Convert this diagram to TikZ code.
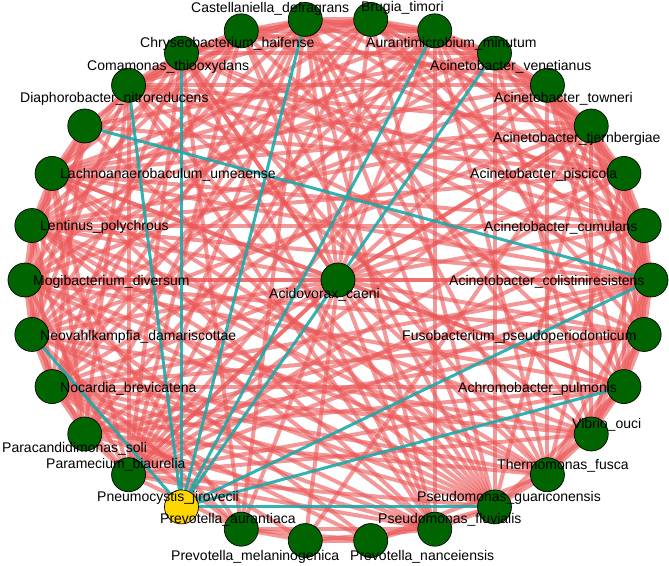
\documentclass[tikz,border=0pt]{standalone}
\usepackage{fontspec}
\setmainfont{Liberation Sans}
\definecolor{posedge}{RGB}{236,88,88}
\definecolor{negedge}{RGB}{30,168,168}
\definecolor{taxongreen}{RGB}{0,100,0}
\definecolor{pathogen}{RGB}{255,215,0}
\tikzset{
  posline/.style={draw=posedge, line width=4pt, opacity=.62},
  negline/.style={draw=negedge, line width=3pt, opacity=.9},
  taxon/.style={circle, draw=black, line width=.7pt, fill=taxongreen, minimum size=34pt, inner sep=0pt},
  lab/.style={anchor=base west, inner sep=0pt, font=\fontsize{14}{16}\selectfont}
}
\begin{document}
\begin{tikzpicture}[x=1pt,y=-1pt]
\useasboundingbox (0,0) rectangle (669,565);
% circle layout, 12 degrees apart
\foreach \k in {0,...,29}
  \coordinate (p\k) at ({338+313*cos(12*\k)},{280-262*sin(12*\k)});
\coordinate (pc) at (338,280);
% positive correlations
\foreach \a/\b in {0/1,0/2,0/3,0/4,0/5,0/7,1/2,1/3,1/4,1/6,1/8,2/3,2/4,2/5,2/7,2/9,
  3/4,3/5,3/6,3/8,4/5,4/6,4/7,4/9,5/6,5/7,5/8,5/10,6/7,6/8,6/9,7/8,7/9,7/10,7/11,
  8/9,8/10,8/11,9/10,9/11,9/13,10/11,10/12,10/13,11/13,11/14,
  12/13,12/14,13/14,13/15,13/16,14/15,14/16,14/17,15/16,15/17,16/17,16/18,17/18,
  17/19,18/19,14/18,15/19,12/16,
  24/25,25/26,25/27,26/27,26/28,27/28,27/29,28/29,28/0,29/0,29/1,26/29,25/28,27/0,
  28/1,26/0,3/29,2/28,1/27,2/29,
  21/22,22/23,21/23,22/24,23/25,21/24,19/21,23/26,22/17,22/3,23/15,
  25/17,25/16,25/14,25/13,25/11,25/9,25/7,25/5,25/3,25/12,25/19,25/10,25/8,25/15,
  26/18,26/15,26/13,26/10,26/8,26/6,26/4,26/2,26/14,26/17,
  27/17,27/14,27/11,27/8,27/5,27/3,27/19,27/16,
  28/18,28/15,28/13,28/9,28/6,28/4,28/19,28/17,
  29/17,29/14,29/11,29/7,29/4,29/18,29/15,
  0/15,0/13,0/10,0/18,0/14,0/17,0/19,
  1/16,1/13,1/11,1/19,1/10,1/14,
  2/17,2/14,2/12,2/19,2/11,
  3/16,3/13,3/19,3/11,3/14,3/18,
  4/17,4/15,4/13,4/19,4/11,
  5/16,5/14,5/12,5/19,5/13,
  6/17,6/15,6/13,6/19,6/21,6/24,6/18,
  7/16,7/14,7/19,7/22,7/17,
  8/17,8/15,8/21,8/24,8/18,8/19,
  9/16,9/19,9/24,9/14,9/17,
  10/17,10/15,10/24,10/21,10/19,
  11/16,11/18,11/24,11/19,12/17,13/18,13/24,13/19,
  14/21,14/24,16/21,16/24,17/21,17/24,17/23,18/24,19/24,
  c/0,c/15,c/3,c/8,c/13,c/26,c/19,c/10,c/28}
  \draw[posline] (p\a) -- (p\b);
% negative correlations
\foreach \a/\b in {20/16,20/11,20/10,20/8,20/6,20/5,20/0,20/28,20/25,12/0}
  \draw[negline] (p\a) -- (p\b);
% taxa
\foreach \k in {0,...,19,21,22,...,29}
  \node[taxon] (n\k) at (p\k) {};
\node[taxon, fill=pathogen] (n20) at (p20) {};
\node[taxon] (nc) at (pc) {};
% names
\node[lab] (lcas) at (191,12) {Castellaniella\_defragrans};
\node[lab] (lbru) at (361,11) {Brugia\_timori};
\node[lab] (lchr) at (140,47) {Chryseobacterium\_haifense};
\node[lab] (laur) at (366,47) {Aurantimicrobium\_minutum};
\node[lab] (lcom) at (87,70) {Comamonas\_thiooxydans};
\node[lab] (lven) at (430,70) {Acinetobacter\_venetianus};
\node[lab] (ldia) at (20,102) {Diaphorobacter\_nitroreducens};
\node[lab] (ltow) at (494,102) {Acinetobacter\_towneri};
\node[lab] (ltje) at (493,142) {Acinetobacter\_tjernbergiae};
\node[lab] (llac) at (60,178) {Lachnoanaerobaculum\_umeaense};
\node[lab] (lpis) at (470,178) {Acinetobacter\_piscicola};
\node[lab] (llen) at (40,230) {Lentinus\_polychrous};
\node[lab] (lcum) at (484,231) {Acinetobacter\_cumulans};
\node[lab] (lmog) at (33,285) {Mogibacterium\_diversum};
\node[lab] (laci) at (269,298) {Acidovorax\_caeni};
\node[lab] (lcol) at (449,285) {Acinetobacter\_colistiniresistens};
\node[lab] (lneo) at (40,340) {Neovahlkampfia\_damariscottae};
\node[lab] (lfus) at (402,340) {Fusobacterium\_pseudoperiodonticum};
\node[lab] (lnoc) at (60,392) {Nocardia\_brevicatena};
\node[lab] (lach) at (458,392) {Achromobacter\_pulmonis};
\node[lab] (lvib) at (572,428) {Vibrio\_ouci};
\node[lab] (lpar) at (2,452) {Paracandidimonas\_soli};
\node[lab] (lpam) at (46,468) {Paramecium\_biaurelia};
\node[lab] (lthe) at (497,469) {Thermomonas\_fusca};
\node[lab] (lpne) at (97,501) {Pneumocystis\_jirovecii};
\node[lab] (lgua) at (417,501) {Pseudomonas\_guariconensis};
\node[lab] (lpau) at (160,523) {Prevotella\_aurantiaca};
\node[lab] (lflu) at (378,523) {Pseudomonas\_fluvialis};
\node[lab] (lmel) at (171,560) {Prevotella\_melaninogenica};
\node[lab] (lnan) at (350,560) {Prevotella\_nanceiensis};
\end{tikzpicture}
\end{document}
